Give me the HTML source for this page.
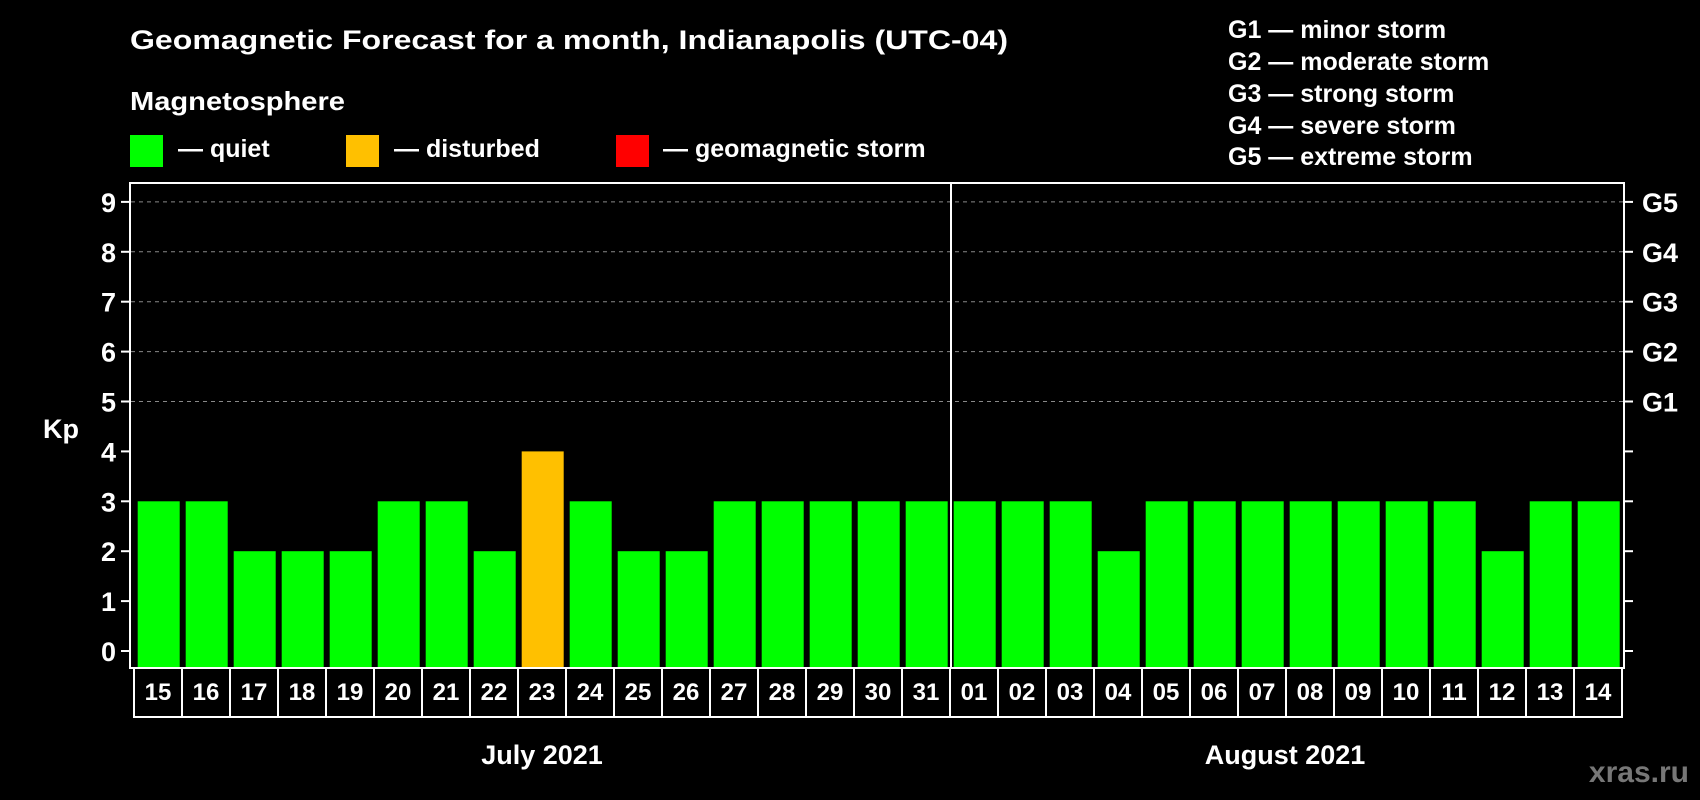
<!DOCTYPE html>
<html><head><meta charset="utf-8"><style>
html,body{margin:0;padding:0;background:#000;}
svg{display:block;font-family:"Liberation Sans",Arial,sans-serif;font-weight:bold;}
</style></head><body>
<svg id="chart" width="1700" height="800" viewBox="0 0 1700 800">
<rect x="0" y="0" width="1700" height="800" fill="#000"/>
<text x="130" y="49" fill="#fff" font-size="27" textLength="878" lengthAdjust="spacingAndGlyphs">Geomagnetic Forecast for a month, Indianapolis (UTC-04)</text>
<text x="130" y="110" fill="#fff" font-size="26" textLength="215" lengthAdjust="spacingAndGlyphs">Magnetosphere</text>
<g>
<rect x="130" y="135" width="33" height="32" fill="#00ff00"/>
<text x="178" y="157" fill="#fff" font-size="25">— quiet</text></g>
<g>
<rect x="346" y="135" width="33" height="32" fill="#ffc000"/>
<text x="394" y="157" fill="#fff" font-size="25">— disturbed</text></g>
<g>
<rect x="616" y="135" width="33" height="32" fill="#ff0000"/>
<text x="663" y="157" fill="#fff" font-size="25">— geomagnetic storm</text></g>
<g fill="#fff" font-size="25">
<text x="1228" y="38">G1 — minor storm</text>
<text x="1228" y="70">G2 — moderate storm</text>
<text x="1228" y="102">G3 — strong storm</text>
<text x="1228" y="134">G4 — severe storm</text>
<text x="1228" y="165">G5 — extreme storm</text>
</g>
<g id="grid"></g>
<g id="bars"></g>
<rect x="130" y="183" width="1494" height="485" fill="none" stroke="#fff" stroke-width="2"/>
<line x1="951" y1="183" x2="951" y2="668" stroke="#fff" stroke-width="2"/>
<g id="axes"></g>
<g id="days"></g>
<text x="43" y="438" fill="#fff" font-size="27">Kp</text>
<text x="542" y="764" fill="#fff" font-size="27" text-anchor="middle">July 2021</text>
<text x="1285" y="764" fill="#fff" font-size="27" text-anchor="middle">August 2021</text>
<text x="1689" y="782" fill="#777" font-size="30" text-anchor="end">xras.ru</text>
</svg>
<script>
const days = ["15","16","17","18","19","20","21","22","23","24","25","26","27","28","29","30","31","01","02","03","04","05","06","07","08","09","10","11","12","13","14"];
const kpValues = [3,3,2,2,2,3,3,2,4,3,2,2,3,3,3,3,3,3,3,3,2,3,3,3,3,3,3,3,2,3,3];
const yTicks = [0,1,2,3,4,5,6,7,8,9];
const gLabels = ["G1","G2","G3","G4","G5"];
const gLevels = [5,6,7,8,9];

const NS="http://www.w3.org/2000/svg";
const y = v => 651 - v*49.9;
const slot = i => 134 + i*48;
function mk(tag, attrs, parent){const e=document.createElementNS(NS,tag);for(const k in attrs)e.setAttribute(k,attrs[k]);parent.appendChild(e);return e;}
const grid=document.getElementById('grid'), bars=document.getElementById('bars'), axes=document.getElementById('axes'), dg=document.getElementById('days');
gLevels.forEach(v=>{
  const l=mk('line',{x1:131,x2:1623,y1:y(v),y2:y(v),stroke:'#888','stroke-width':1,'stroke-dasharray':'4,4'},grid);
  
  
});
yTicks.forEach(v=>{
  const t=mk('line',{x1:121,x2:130,y1:y(v),y2:y(v),stroke:'#fff','stroke-width':2},axes);
  
  
  const t2=mk('line',{x1:1624,x2:1633,y1:y(v),y2:y(v),stroke:'#fff','stroke-width':2},axes);
  
  
  const lb=mk('text',{x:116,y:y(v)+10,fill:'#fff','font-size':27,'text-anchor':'end'},axes);
  lb.textContent=v;
  
  
});
gLabels.forEach((g,i)=>{
  const lb=mk('text',{x:1642,y:y(gLevels[i])+10,fill:'#fff','font-size':27},axes);
  lb.textContent=g;
  
  
});
kpValues.forEach((v,i)=>{
  const c = v>=5?'#ff0000':(v>=4?'#ffc000':'#00ff00');
  const r=mk('rect',{x:slot(i)+3.7,y:y(v),width:42,height:668-y(v),fill:c},bars);
  
  
});
days.forEach((d,i)=>{
  const r=mk('rect',{x:slot(i),y:668,width:48,height:49,fill:'none',stroke:'#fff','stroke-width':2},dg);
  
  
  const t=mk('text',{x:slot(i)+24,y:700,fill:'#fff','font-size':24,'text-anchor':'middle'},dg);
  t.textContent=d;
  
  
});
</script>
</body></html>
